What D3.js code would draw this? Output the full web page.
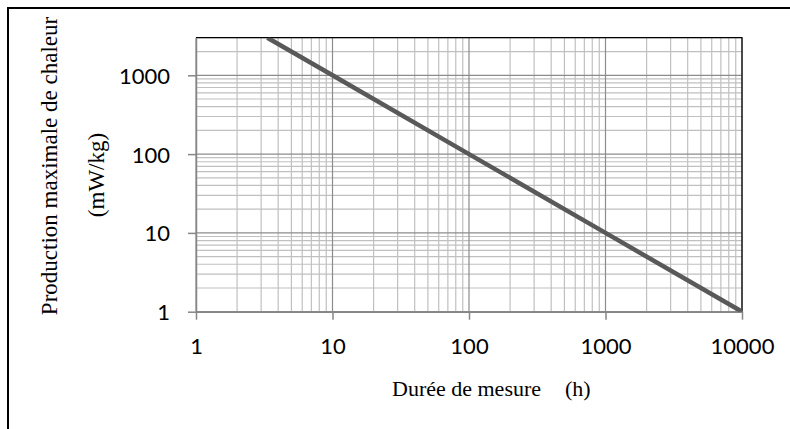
<!DOCTYPE html>
<html>
<head>
<meta charset="utf-8">
<script src="https://cdn.jsdelivr.net/npm/d3@7"></script>
<style>
  html, body { margin: 0; padding: 0; background: #fff; overflow: hidden; }
  svg { display: block; }
</style>
</head>
<body>
<svg id="chart"></svg>
<script>
// Donnees
const durees = [3.333, 10, 100, 1000, 10000];      // h
const chaleur = [3000, 1000, 100, 10, 1];           // mW/kg
const xTickLabels = [1, 10, 100, 1000, 10000];
const yTickLabels = [1, 10, 100, 1000];
const xTitle = "Durée de mesure";
const xUnit = "(h)";
const yTitle1 = "Production maximale de chaleur";
const yTitle2 = "(mW/kg)";

const svgWidth = 790, svgHeight = 429;
const margin = { top: 37.7, left: 196, right: 48, bottom: 117.3 };
const innerWidth = svgWidth - margin.left - margin.right;
const innerHeight = svgHeight - margin.top - margin.bottom;

const svg = d3.select("#chart")
    .attr("width", svgWidth)
    .attr("height", svgHeight);

// Chenar exterior (doar sus si stanga vizibile)
svg.append("path")
    .attr("d", `M8,${svgHeight}V8H${svgWidth}`)
    .attr("fill", "none")
    .attr("stroke", "#000")
    .attr("stroke-width", 2);

const xScale = d3.scaleLog().domain([1, 10000]).range([0, innerWidth]);
const yScale = d3.scaleLog().domain([1, 3000]).range([innerHeight, 0]);

const g = svg.append("g")
    .attr("transform", `translate(${margin.left},${margin.top})`);

const isMajor = v => Math.abs(Math.log10(v) - Math.round(Math.log10(v))) < 1e-9;

// Grila minora
const xMinor = xScale.ticks().filter(v => !isMajor(v));
const yMinor = yScale.ticks().filter(v => !isMajor(v));

g.selectAll(".vminor").data(xMinor).join("line")
    .attr("x1", d => xScale(d)).attr("x2", d => xScale(d))
    .attr("y1", 0).attr("y2", innerHeight)
    .attr("stroke", "#c0c0c0").attr("stroke-width", 1.2);

g.selectAll(".hminor").data(yMinor).join("line")
    .attr("y1", d => yScale(d)).attr("y2", d => yScale(d))
    .attr("x1", 0).attr("x2", innerWidth)
    .attr("stroke", "#c0c0c0").attr("stroke-width", 1.2);

// Grila majora
g.selectAll(".vmajor").data(xTickLabels).join("line")
    .attr("x1", d => xScale(d)).attr("x2", d => xScale(d))
    .attr("y1", 0).attr("y2", innerHeight)
    .attr("stroke", "#8c8c8c").attr("stroke-width", 1.2);

g.selectAll(".hmajor").data(yTickLabels).join("line")
    .attr("y1", d => yScale(d)).attr("y2", d => yScale(d))
    .attr("x1", 0).attr("x2", innerWidth)
    .attr("stroke", "#8c8c8c").attr("stroke-width", 1.2);

// Chenar zona grafic (sus si dreapta negru)
g.append("path")
    .attr("d", `M0,0H${innerWidth}V${innerHeight}`)
    .attr("fill", "none")
    .attr("stroke", "#000")
    .attr("stroke-width", 1.2);

// Axe
const xAxis = d3.axisBottom(xScale)
    .tickValues(xTickLabels)
    .tickFormat(d3.format("d"))
    .tickSizeInner(8).tickSizeOuter(0).tickPadding(19);
const yAxis = d3.axisLeft(yScale)
    .tickValues(yTickLabels)
    .tickFormat(d3.format("d"))
    .tickSizeInner(8).tickSizeOuter(0).tickPadding(18);

const gx = g.append("g")
    .attr("transform", `translate(0,${innerHeight})`)
    .call(xAxis);
const gy = g.append("g").call(yAxis);

[gx, gy].forEach(ax => {
    ax.select(".domain").attr("stroke", "#868686").attr("stroke-width", 1.5);
    ax.selectAll(".tick line").attr("stroke", "#868686").attr("stroke-width", 1.5);
    ax.selectAll(".tick text")
        .attr("fill", "#000")
        .style("font-family", "Lato, 'Open Sans', sans-serif")
        .style("font-size", "22px");
});
gy.selectAll(".tick text").attr("dy", "0.36em");
gx.selectAll(".tick text").attr("dy", "0.71em");

// Serie
g.append("clipPath").attr("id", "clip")
    .append("rect").attr("width", innerWidth).attr("height", innerHeight);

const line = d3.line()
    .x((d, i) => xScale(durees[i]))
    .y(d => yScale(d));

g.append("path")
    .datum(chaleur)
    .attr("clip-path", "url(#clip)")
    .attr("fill", "none")
    .attr("stroke", "#595959")
    .attr("stroke-width", 4.5)
    .attr("d", line);

// Titluri axe
const serif = "'Liberation Serif', 'Times New Roman', serif";

svg.append("text")
    .attr("x", 392)
    .attr("y", 396)
    .style("font-family", serif)
    .style("font-size", "22px")
    .text(xTitle);

svg.append("text")
    .attr("x", 565)
    .attr("y", 396)
    .style("font-family", serif)
    .style("font-size", "22px")
    .text(xUnit);

svg.append("text")
    .attr("transform", "translate(57,166) rotate(-90)")
    .attr("text-anchor", "middle")
    .style("font-family", serif)
    .style("font-size", "23px")
    .text(yTitle1);

svg.append("text")
    .attr("transform", "translate(104,175) rotate(-90)")
    .attr("text-anchor", "middle")
    .style("font-family", serif)
    .style("font-size", "23px")
    .text(yTitle2);
</script>
</body>
</html>
